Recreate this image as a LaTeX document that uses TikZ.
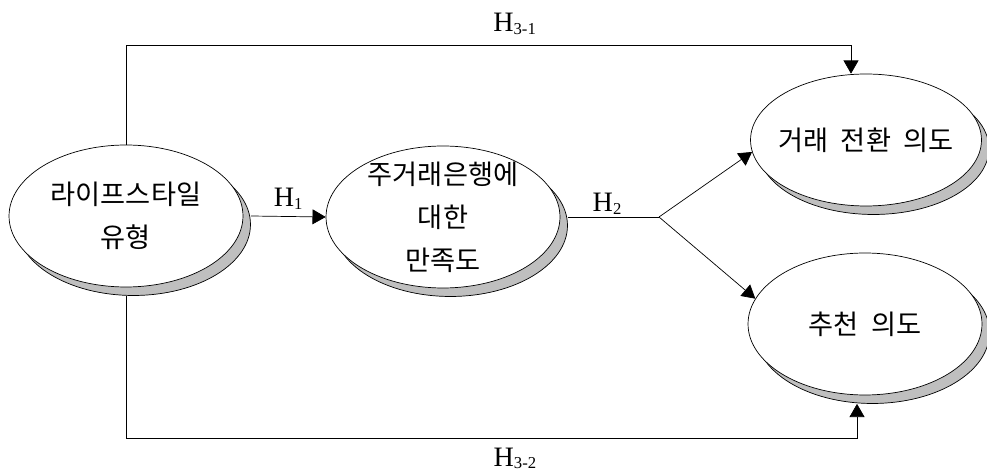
\documentclass[tikz,border=0pt]{standalone}
\usepackage{fontspec}
\setmainfont{Liberation Serif}
\newfontfamily\kofont[WordSpace=2.0]{Noto Sans CJK KR}
\usetikzlibrary{arrows.meta,shapes.geometric,shadows}
\newcommand{\hsub}[1]{H\raisebox{-1.5pt}{\fontsize{9.5}{9.5}\selectfont#1}}

\begin{document}
\begin{tikzpicture}[x=0.02cm, y=-0.02cm,
  every node/.style={font=\fontsize{16}{20}\selectfont},
  factor/.style={ellipse, draw, fill=white, inner xsep=-8pt, inner ysep=-5pt,
    align=center, minimum width=4.68cm, minimum height=2.84cm,
    font=\kofont\fontsize{15.5}{24.5}\selectfont,
    copy shadow={shadow xshift=0.15cm, shadow yshift=-0.17cm, fill=black!25}},
  arr/.style={-{Triangle[length=7.5pt,width=8.5pt]}}]
  \useasboundingbox (0,0) rectangle (987,472);

  \node[factor] (life) at (126,216) {라이프스타일\\유형};
  \node[factor] (sat) at (443,217) {주거래은행에\\대한\\만족도};
  \node[factor, minimum width=4.62cm, minimum height=2.64cm] (switch) at (866,140) {거래 전환 의도};
  \node[factor] (rec) at (865,324) {추천 의도};

  \coordinate (fork) at (659,217);
  \coordinate (topleft) at (126,45);
  \coordinate (botleft) at (126,438);

  \draw[arr] ([xshift=0.15cm]life.east) -- node[above=0.5pt] (h1) {\hsub{1}} (sat.west);
  \draw ([xshift=0.15cm]sat.east) -- node[pos=0.43, above=-2pt] (h2) {\hsub{2}} (fork);
  \draw[arr] (fork) -- (switch.186);
  \draw[arr] (fork) -- (rec.167);

  \draw[arr] (life.north) -- (topleft) -| node[pos=0.268, above=2.5pt] (h31) {\hsub{3-1}}
    ([xshift=-0.3cm]switch.north);
  \draw[arr] ([yshift=-0.17cm]life.south) -- (botleft) -| node[pos=0.266, below=2pt] (h32) {\hsub{3-2}}
    ([xshift=-0.16cm, yshift=-0.17cm]rec.south);
\end{tikzpicture}
\end{document}
